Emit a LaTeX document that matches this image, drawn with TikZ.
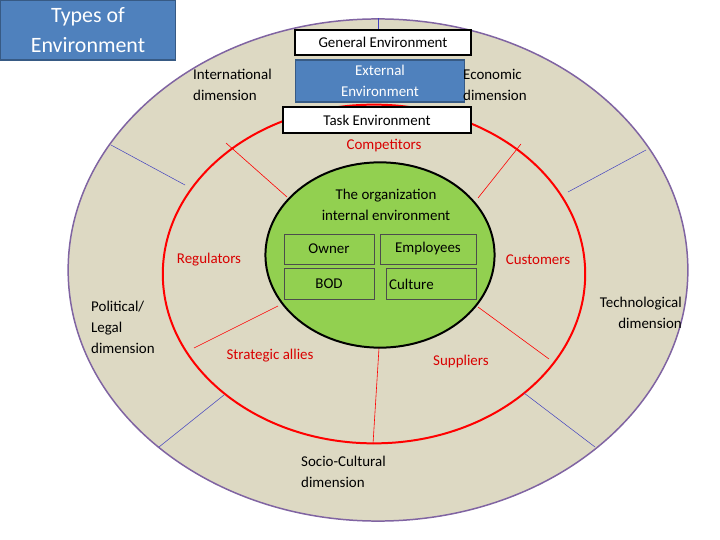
\documentclass[tikz,border=0pt]{standalone}
\usepackage{fontspec}
\setmainfont{Carlito}
\usetikzlibrary{shapes.geometric}
\begin{document}
\begin{tikzpicture}[x=1bp,y=-1bp,
  lbl/.style={font=\fontsize{15}{21}\selectfont,align=left,inner sep=0},
  rlbl/.style={lbl,text=red!85!black},
  wbox/.style={draw=black,line width=2pt,fill=white,font=\fontsize{15}{18}\selectfont,inner sep=0},
  gbox/.style={draw=black!70,line width=0.6pt,fill=grn,font=\fontsize{15}{18}\selectfont,inner sep=0},
  bl/.style={draw=blue!50!gray,line width=0.5pt},
  rl/.style={draw=red,line width=0.6pt}]
\definecolor{tan}{HTML}{DDD9C3}
\definecolor{purp}{HTML}{8064A2}
\definecolor{grn}{HTML}{92D050}
\definecolor{bblue}{HTML}{4F81BD}
\useasboundingbox (0,0) rectangle (720,540);
\fill[white] (0,0) rectangle (720,540);
\node[draw=purp,line width=1.5pt,fill=tan,ellipse,minimum width=622,minimum height=504,inner sep=0] (outer) at (378,270) {};
\node[draw=red,line width=2pt,fill=tan,ellipse,minimum width=424,minimum height=340,inner sep=0] (redc) at (374,274) {};
% blue lines
\coordinate (b1a) at (111,145); \coordinate (b1b) at (185,185);
\coordinate (b2a) at (646,150); \coordinate (b2b) at (568,192);
\coordinate (b3a) at (159,447); \coordinate (b3b) at (224,395);
\coordinate (b4a) at (595,447); \coordinate (b4b) at (524,393);
\coordinate (b5a) at (378,18); \coordinate (b5b) at (378,40);
\draw[bl] (b1a)--(b1b); \draw[bl] (b2a)--(b2b); \draw[bl] (b3a)--(b3b); \draw[bl] (b4a)--(b4b); \draw[bl] (b5a)--(b5b);
% red lines
\coordinate (r1a) at (226,143); \coordinate (r1b) at (287,197);
\coordinate (r2a) at (521,144); \coordinate (r2b) at (478,198);
\coordinate (r3a) at (194,348); \coordinate (r3b) at (278,306);
\coordinate (r4a) at (549,359); \coordinate (r4b) at (478,307);
\coordinate (r5a) at (373,444); \coordinate (r5b) at (379,348);
\draw[rl] (r1a)--(r1b); \draw[rl] (r2a)--(r2b); \draw[rl] (r3a)--(r3b); \draw[rl] (r4a)--(r4b); \draw[rl] (r5a)--(r5b);
\node[draw=black,line width=2pt,fill=grn,ellipse,minimum width=230,minimum height=186,inner sep=0] (org) at (380,255) {};
% boxes
\node[draw=bblue!70!black,line width=1.5pt,fill=bblue,text=white,minimum width=176,minimum height=60,align=center,font=\fontsize{22}{30}\selectfont,inner sep=0] (title) at (88,30) {Types of\\Environment};
\node[wbox,minimum width=176,minimum height=25] (gen) at (383,42.5) {General Environment};
\node[draw=bblue!70!black,line width=1.5pt,fill=bblue,text=white,minimum width=170,minimum height=42,align=center,font=\fontsize{15}{21}\selectfont,inner sep=0] (ext) at (380,81) {External\\Environment};
\node[wbox,minimum width=188,minimum height=26] (task) at (377,120) {Task Environment};
\node[gbox,minimum width=90,minimum height=30] (own) at (329,249) {Owner};
\node[gbox,minimum width=96,minimum height=30] (emp) at (428,249) {Employees};
\node[gbox,minimum width=90,minimum height=31] (bod) at (329,284) {BOD};
\node[gbox,minimum height=31,text width=84,align=left,inner xsep=3] (cul) at (431,284) {Culture};
% labels
\node[lbl,anchor=west] (intl) at (193,85) {International\\dimension};
\node[lbl,anchor=west] (econ) at (463,85) {Economic\\dimension};
\node[rlbl] (comp) at (384,146) {Competitors};
\node[lbl,align=center] (orgt) at (386,205) {The organization\\internal environment};
\node[rlbl] (reg) at (209,260) {Regulators};
\node[rlbl] (cust) at (538,260) {Customers};
\node[lbl,anchor=west] (pol) at (91,327) {Political/\\Legal\\dimension};
\node[lbl,align=right,anchor=east] (tech) at (682,313) {Technological\\dimension};
\node[rlbl] (allies) at (270,356) {Strategic allies};
\node[rlbl] (supp) at (461,362) {Suppliers};
\node[lbl,anchor=west] (soc) at (301,472) {Socio-Cultural\\dimension};
\end{tikzpicture}
\end{document}
